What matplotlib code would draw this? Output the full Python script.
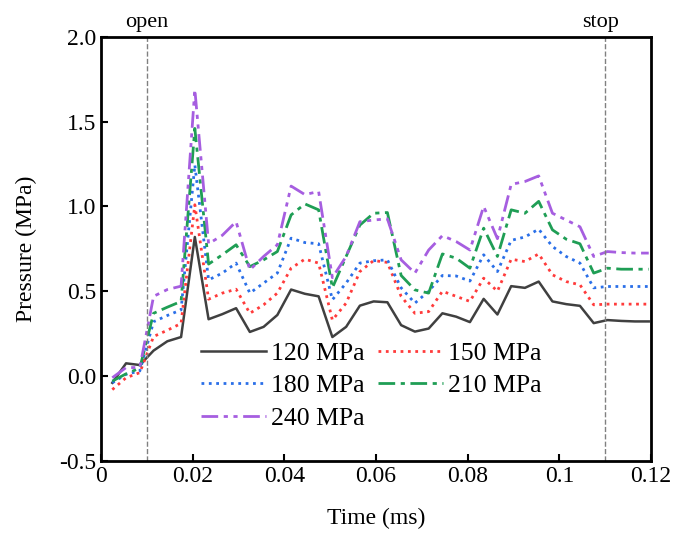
import numpy as np
import matplotlib
matplotlib.use("Agg")
import matplotlib.pyplot as plt

plt.rcParams['font.family'] = ['Liberation Serif', 'DejaVu Serif']

time_ms = [0.0025, 0.0055, 0.0085, 0.0115, 0.0145, 0.0175, 0.0205, 0.0235, 0.0265, 0.0295,
           0.0325, 0.0355, 0.0385, 0.0415, 0.0445, 0.0475, 0.0505, 0.0535, 0.0565, 0.0595,
           0.0625, 0.0655, 0.0685, 0.0715, 0.0745, 0.0775, 0.0805, 0.0835, 0.0865, 0.0895,
           0.0925, 0.0955, 0.0985, 0.1015, 0.1045, 0.1075, 0.1105, 0.1135, 0.1165, 0.1195]

p120 = [-0.04, 0.075, 0.065, 0.15, 0.205, 0.23, 0.82, 0.335, 0.365, 0.40,
        0.26, 0.29, 0.36, 0.51, 0.485, 0.47, 0.23, 0.29, 0.415, 0.44,
        0.435, 0.30, 0.262, 0.28, 0.37, 0.35, 0.318, 0.455, 0.363, 0.53,
        0.52, 0.557, 0.44, 0.424, 0.414, 0.312, 0.33, 0.325, 0.322, 0.322]
p150 = [-0.08, -0.01, 0.02, 0.233, 0.27, 0.31, 1.01, 0.453, 0.489, 0.512,
        0.37, 0.42, 0.489, 0.636, 0.689, 0.666, 0.33, 0.43, 0.616, 0.681,
        0.67, 0.47, 0.37, 0.38, 0.50, 0.47, 0.44, 0.577, 0.50, 0.689,
        0.675, 0.72, 0.597, 0.557, 0.538, 0.42, 0.424, 0.424, 0.424, 0.424]
p180 = [-0.04, 0.01, 0.03, 0.32, 0.357, 0.39, 1.245, 0.567, 0.607, 0.666,
        0.489, 0.548, 0.607, 0.813, 0.787, 0.78, 0.45, 0.548, 0.666, 0.68,
        0.685, 0.52, 0.43, 0.50, 0.593, 0.59, 0.56, 0.715, 0.616, 0.80,
        0.82, 0.866, 0.764, 0.705, 0.666, 0.52, 0.528, 0.528, 0.528, 0.528]
p210 = [-0.03, 0.013, 0.047, 0.37, 0.406, 0.44, 1.46, 0.66, 0.715, 0.774,
        0.645, 0.685, 0.734, 0.95, 1.015, 0.98, 0.52, 0.705, 0.89, 0.96,
        0.964, 0.593, 0.508, 0.489, 0.72, 0.695, 0.636, 0.872, 0.705, 0.98,
        0.96, 1.03, 0.862, 0.807, 0.78, 0.607, 0.636, 0.63, 0.63, 0.63]
p240 = [-0.01, 0.05, 0.05, 0.47, 0.51, 0.53, 1.69, 0.78, 0.83, 0.91,
        0.626, 0.705, 0.774, 1.12, 1.07, 1.088, 0.58, 0.705, 0.91, 0.92,
        0.927, 0.685, 0.607, 0.743, 0.828, 0.793, 0.743, 1.0, 0.81, 1.13,
        1.147, 1.18, 0.96, 0.92, 0.88, 0.705, 0.734, 0.728, 0.725, 0.725]

fig = plt.figure(figsize=(6.86, 5.34), dpi=100)
ax = fig.add_axes([0.147, 0.137, 0.802, 0.794])

l120, = ax.plot(time_ms, p120, '-', color='#404040', lw=1.8, label='120 MPa')
l150, = ax.plot(time_ms, p150, ':', color='#ff3b3b', lw=2.0, label='150 MPa')
l180, = ax.plot(time_ms, p180, ':', color='#2a6fe8', lw=2.0, label='180 MPa')
l210, = ax.plot(time_ms, p210, color='#1f9e55', lw=2.0, dashes=[6, 2, 1.5, 2], label='210 MPa')
l240, = ax.plot(time_ms, p240, color='#a65ee0', lw=2.0, dashes=[6, 2, 1.5, 2, 1.5, 2], label='240 MPa')

# valve open / stop markers
ax.axvline(0.01, color='gray', ls='--', lw=1.0)
ax.axvline(0.11, color='gray', ls='--', lw=1.0)
ax.text(0.01, 2.03, 'open', ha='center', va='bottom', fontsize=16)
ax.text(0.109, 2.03, 'stop', ha='center', va='bottom', fontsize=16)

ax.set_xlim(0, 0.12)
ax.set_ylim(-0.5, 2.0)
ax.set_xticks([0, 0.02, 0.04, 0.06, 0.08, 0.1, 0.12])
ax.set_xticklabels(['0', '0.02', '0.04', '0.06', '0.08', '0.1', '0.12'])
ax.set_yticks([-0.5, 0.0, 0.5, 1.0, 1.5, 2.0])
ax.set_yticklabels(['-0.5', '0.0', '0.5', '1.0', '1.5', '2.0'])
ax.tick_params(direction='in', labelsize=17, length=5, width=1.5)
for s in ax.spines.values():
    s.set_linewidth(2)

ax.set_xlabel('Time (ms)', fontsize=17, labelpad=15)
ax.set_ylabel('Pressure (MPa)', fontsize=17, labelpad=16)

# row-wise order: 120 150 / 180 210 / 240
ax.legend([l120, l180, l240, l150, l210],
          ['120 MPa', '180 MPa', '240 MPa', '150 MPa', '210 MPa'],
          ncol=2, frameon=False, fontsize=18.5, loc='lower left',
          bbox_to_anchor=(0.15, 0.03), handlelength=2.5, columnspacing=0.55,
          handletextpad=0.2, labelspacing=0.38, borderpad=0.2)

fig.savefig('out.png', dpi=100)
